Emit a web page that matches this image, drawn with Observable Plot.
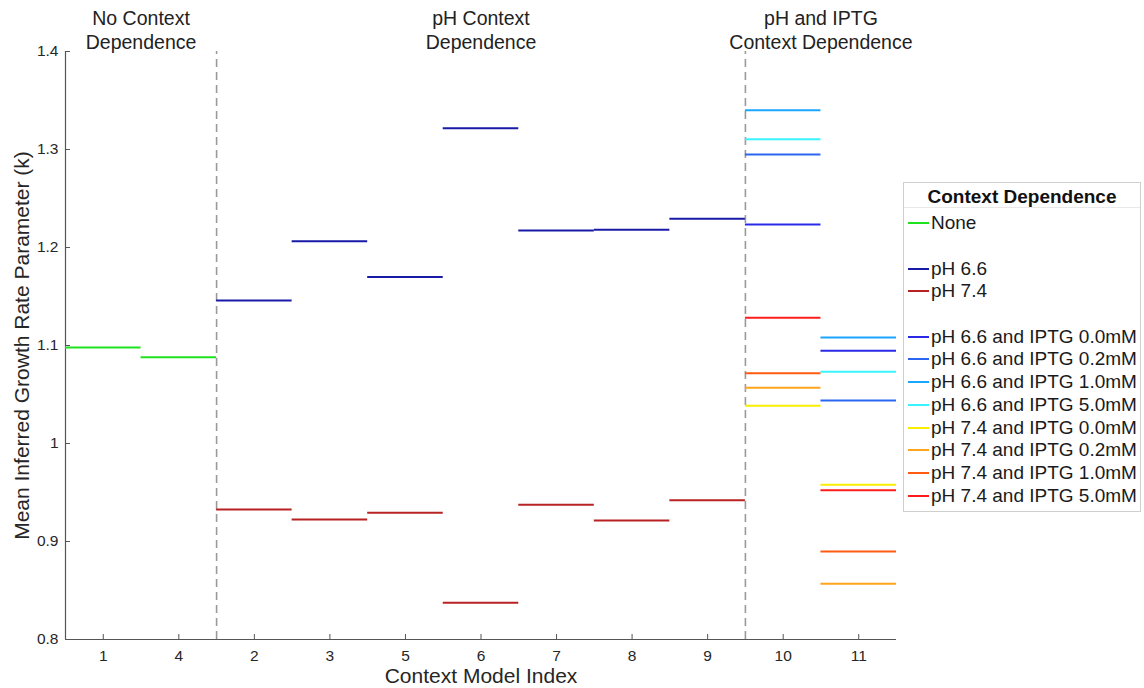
<!DOCTYPE html>
<html>
<head>
<meta charset="utf-8">
<script src="https://cdn.jsdelivr.net/npm/d3@7"></script>
<script src="https://cdn.jsdelivr.net/npm/@observablehq/plot@0.6"></script>
<style>
  html, body { margin: 0; padding: 0; background: #fff; }
  body { font-family: "Liberation Sans", Arial, Helvetica, sans-serif; }
  #wrap { position: relative; width: 1144px; height: 688px; overflow: hidden; }
  #legend { position: absolute; left: 903px; top: 182px; width: 236px; border: 1px solid #cfcfcf; background: #fff; padding-bottom: 4px; }
  #legend .title { height: 24px; line-height: 27px; text-align: center; font-weight: bold; font-size: 19px; color: #111; border-bottom: 1px solid #e8e8e8; margin-bottom: 4px; }
  #legend .row { height: 22.7px; display: flex; align-items: center; font-size: 19px; color: #1a1a1a; white-space: nowrap; }
  #legend .swatch { width: 21px; height: 2px; margin-left: 4px; margin-right: 2px; flex: none; }
</style>
</head>
<body>
<div id="wrap"><div id="chart"></div><div id="legend"></div></div>
<script>
// ---- Data ----
const modelOrder = ["1", "4", "2", "3", "5", "6", "7", "8", "9", "10", "11"];

const noneModels = ["1", "4"];
const noneK = [1.098, 1.088];

const pHModels = ["2", "3", "5", "6", "7", "8", "9"];
const pH66K = [1.146, 1.2065, 1.170, 1.3217, 1.2173, 1.218, 1.2293];
const pH74K = [0.9327, 0.9224, 0.9293, 0.8374, 0.9374, 0.9214, 0.9421];

const iptgModels = ["10", "11"];
const pH66Iptg00K = [1.2235, 1.0946];
const pH66Iptg02K = [1.2949, 1.0439];
const pH66Iptg10K = [1.3401, 1.1082];
const pH66Iptg50K = [1.3105, 1.0732];
const pH74Iptg00K = [1.0385, 0.958];
const pH74Iptg02K = [1.0568, 0.857];
const pH74Iptg10K = [1.0717, 0.8898];
const pH74Iptg50K = [1.1283, 0.9523];

const yTicks = [0.8, 0.9, 1.0, 1.1, 1.2, 1.3, 1.4];
const groupTitles = ["No Context\nDependence", "pH Context\nDependence", "pH and IPTG\nContext Dependence"];
const legendTitle = "Context Dependence";
const xLabel = "Context Model Index";
const yLabel = "Mean Inferred Growth Rate Parameter (k)";

// ---- Series / styles ----
const series = [
  {name: "None", models: noneModels, k: noneK, color: "#1fe21f"},
  {name: "pH 6.6", models: pHModels, k: pH66K, color: "#1a1aa8"},
  {name: "pH 7.4", models: pHModels, k: pH74K, color: "#b82222"},
  {name: "pH 6.6 and IPTG 0.0mM", models: iptgModels, k: pH66Iptg00K, color: "#2a2ae6"},
  {name: "pH 6.6 and IPTG 0.2mM", models: iptgModels, k: pH66Iptg02K, color: "#2a66f2"},
  {name: "pH 6.6 and IPTG 1.0mM", models: iptgModels, k: pH66Iptg10K, color: "#1aa6ff"},
  {name: "pH 6.6 and IPTG 5.0mM", models: iptgModels, k: pH66Iptg50K, color: "#38f4ff"},
  {name: "pH 7.4 and IPTG 0.0mM", models: iptgModels, k: pH74Iptg00K, color: "#f7ee00"},
  {name: "pH 7.4 and IPTG 0.2mM", models: iptgModels, k: pH74Iptg02K, color: "#ffa51c"},
  {name: "pH 7.4 and IPTG 1.0mM", models: iptgModels, k: pH74Iptg10K, color: "#ff5a12"},
  {name: "pH 7.4 and IPTG 5.0mM", models: iptgModels, k: pH74Iptg50K, color: "#ff1c1c"}
];
const legendSpacerAfter = ["None", "pH 7.4"];

const posOf = m => modelOrder.indexOf(m) + 1;
const segments = series.flatMap(s => s.models.map((m, i) => ({
  name: s.name, color: s.color, k: s.k[i], x1: posOf(m) - 0.5, x2: posOf(m) + 0.5
})));

const groups = [noneModels, pHModels, iptgModels];
let acc = 0;
const groupInfo = groups.map((g, i) => {
  const start = acc; acc += g.length;
  return {mid: (start + 1 + acc) / 2, end: acc + 0.5, label: groupTitles[i]};
});
const dividers = groupInfo.slice(0, -1).map(g => g.end);
const positions = modelOrder.map((m, i) => i + 1);

const font = '"Liberation Sans", Arial, Helvetica, sans-serif';

const chart = Plot.plot({
  width: 1144,
  height: 688,
  marginLeft: 65,
  marginRight: 248,
  marginTop: 51,
  marginBottom: 49,
  style: {fontFamily: font, background: "transparent", overflow: "visible"},
  x: {domain: [0.5, 11.5]},
  y: {domain: [0.8, 1.4]},
  color: {type: "identity"},
  marks: [
    Plot.axisX({ticks: positions, tickFormat: d => modelOrder[d - 1], tickSize: -5, tickPadding: 15,
      fontSize: 15.5, stroke: "#555", fill: "#262626", label: null}),
    Plot.axisY({ticks: yTicks, tickFormat: d => String(+d.toFixed(1)), tickSize: -5, tickPadding: 12,
      fontSize: 15.5, stroke: "#555", fill: "#262626", label: null}),
    Plot.ruleY([0.8], {stroke: "#555", strokeWidth: 1.2}),
    Plot.ruleX([0.5], {stroke: "#555", strokeWidth: 1.2}),
    Plot.ruleX(dividers, {y1: 0.8, y2: 1.4, stroke: "#9a9a9a", strokeWidth: 1.6, strokeDasharray: "8,5"}),
    Plot.ruleY(segments, {y: "k", x1: "x1", x2: "x2", stroke: "color", strokeWidth: 2}),
    Plot.text(groupInfo, {x: "mid", text: "label", frameAnchor: "top", lineAnchor: "middle", dy: -22,
      fontSize: 19.5, lineHeight: 1.23, fill: "#222"}),
    Plot.text([xLabel], {frameAnchor: "bottom", textAnchor: "middle", lineAnchor: "middle", dy: 37,
      fontSize: 21, fill: "#262626"}),
    Plot.text([yLabel], {frameAnchor: "left", textAnchor: "middle", lineAnchor: "middle",
      rotate: -90, dx: -43, fontSize: 21, fill: "#262626"})
  ]
});
document.getElementById("chart").appendChild(chart);

// ---- Legend ----
const lg = document.getElementById("legend");
const t = document.createElement("div");
t.className = "title"; t.textContent = legendTitle; lg.appendChild(t);
series.forEach(s => {
  const r = document.createElement("div"); r.className = "row";
  const sw = document.createElement("span"); sw.className = "swatch"; sw.style.background = s.color;
  const tx = document.createElement("span"); tx.textContent = s.name;
  r.appendChild(sw); r.appendChild(tx); lg.appendChild(r);
  if (legendSpacerAfter.includes(s.name)) {
    const sp = document.createElement("div"); sp.className = "row"; lg.appendChild(sp);
  }
});
</script>
</body>
</html>
